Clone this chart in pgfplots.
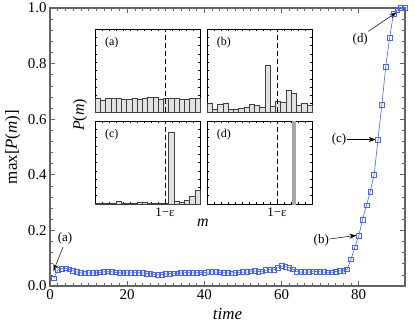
\documentclass[border=0pt]{standalone}
\usepackage{fontspec}
\setmainfont{Liberation Serif}
\usepackage{pgfplots}
\pgfplotsset{compat=1.18}
\usetikzlibrary{arrows.meta}
\definecolor{mainblue}{RGB}{70,100,250}
\definecolor{framegray}{RGB}{100,100,100}
\definecolor{barfill}{RGB}{225,225,225}
\pgfplotstableread{
t v
1 0.028
2 0.058
3 0.062
4 0.064
5 0.060
6 0.055
7 0.050
8 0.047
9 0.046
10 0.047
11 0.047
12 0.048
13 0.049
14 0.051
15 0.053
16 0.051
17 0.049
18 0.048
19 0.047
20 0.047
21 0.047
22 0.048
23 0.048
24 0.047
25 0.045
26 0.044
27 0.042
28 0.040
29 0.041
30 0.043
31 0.045
32 0.046
33 0.046
34 0.047
35 0.048
36 0.048
37 0.047
38 0.048
39 0.049
40 0.048
41 0.050
42 0.051
43 0.050
44 0.049
45 0.048
46 0.047
47 0.046
48 0.048
49 0.049
50 0.050
51 0.050
52 0.053
53 0.054
54 0.052
55 0.053
56 0.057
57 0.059
58 0.058
59 0.066
60 0.072
61 0.070
62 0.066
63 0.060
64 0.052
65 0.050
66 0.050
67 0.050
68 0.053
69 0.052
70 0.051
71 0.050
72 0.049
73 0.049
74 0.052
75 0.054
76 0.055
77 0.060
78 0.096
79 0.139
80 0.180
81 0.239
82 0.290
83 0.340
84 0.400
85 0.527
86 0.652
87 0.788
88 0.892
89 0.978
90 0.993
91 1.000
92 1.000
}\maindata
\pgfplotstableread{
x a b c
0.025 0.161 0.105 0.005
0.075 0.145 0.036 0.005
0.125 0.161 0.088 0.005
0.175 0.169 0.105 0.008
0.225 0.161 0.032 0.036
0.275 0.153 0.036 0.015
0.325 0.157 0.048 0.004
0.375 0.169 0.060 0.004
0.425 0.153 0.088 0.020
0.475 0.161 0.076 0.025
0.525 0.173 0.060 0.015
0.575 0.173 0.566 0.010
0.625 0.157 0.072 0.010
0.675 0.161 0.130 0.004
0.725 0.161 0.120 0.870
0.775 0.161 0.265 0.030
0.825 0.153 0.225 0.020
0.875 0.153 0.084 0.040
0.925 0.165 0.105 0.090
0.975 0.165 0.084 0.170
}\insetdata
\pgfplotsset{
  inset/.style={
    scale only axis, width=105bp, height=83bp, anchor=north west,
    xmin=0, xmax=1, ymin=0, ymax=1,
    axis line style={black, line width=0.6pt},
    xtick={0,0.0666667,...,1.01}, ytick={0,0.1,...,1.01},
    xticklabels={}, yticklabels={},
    tick align=inside, major tick length=2.2bp,
    tick style={black, line width=0.4pt},
    clip=false,
  },
  bars/.style={ybar, bar width=0.05, bar shift=0pt, fill=barfill, draw=black!75, line width=0.5pt},
}
\begin{document}
\begin{tikzpicture}
\useasboundingbox (0bp,0bp) rectangle (415bp,329bp);
\begin{axis}[
  at={(50bp,43bp)}, anchor=south west, scale only axis,
  width=355bp, height=278bp,
  xmin=0, xmax=92, ymin=0, ymax=1,
  xtick={0,20,...,80}, ytick={0,0.2,...,1.01},
  minor x tick num=9, minor y tick num=4,
  tick align=inside, major tick length=5bp, minor tick length=3bp,
  tick style={framegray, line width=0.6pt},
  axis line style={framegray, line width=1.2pt},
  /pgf/number format/assume math mode=true,
  yticklabel style={/pgf/number format/fixed, /pgf/number format/fixed zerofill, /pgf/number format/precision=1},
  ticklabel style={font=\fontsize{15}{17}\selectfont},
  xlabel={\textit{time}}, ylabel={max[\textit{P}(\textit{m})]},
  label style={font=\fontsize{17}{19}\selectfont},
  xlabel style={at={(axis description cs:0.5,0)}, anchor=north, yshift=-19bp},
  ylabel style={at={(axis description cs:0,0.5)}, anchor=south, yshift=26bp},
  clip=false,
]
\addplot[mainblue, line width=0.6pt, mark=square, mark size=2.4bp, mark options={line width=0.6pt}] table[x=t, y=v] {\maindata};
\node[font=\fontsize{13}{15}\selectfont] at (axis cs:3.9,0.170) {(a)};
\draw[-{Stealth[length=7bp,width=5bp]}, line width=0.5pt] (axis cs:3.4,0.141) -- (axis cs:0.9,0.054);
\node[font=\fontsize{13}{15}\selectfont] at (axis cs:70.3,0.164) {(b)};
\draw[-{Stealth[length=7bp,width=5bp]}, line width=0.5pt] (axis cs:72.4,0.169) -- (axis cs:79.4,0.182);
\node[font=\fontsize{13}{15}\selectfont] at (axis cs:74.9,0.527) {(c)};
\draw[-{Stealth[length=7bp,width=5bp]}, line width=0.5pt] (axis cs:76.9,0.527) -- (axis cs:84.4,0.527);
\node[font=\fontsize{13}{15}\selectfont] at (axis cs:80.4,0.886) {(d)};
\draw[-{Stealth[length=7bp,width=5bp]}, line width=0.5pt] (axis cs:82.5,0.916) -- (axis cs:89.8,0.984);
\end{axis}
% inset (a)
\begin{axis}[inset, at={(95bp,300bp)}]
\addplot[bars] table[x=x, y=a] {\insetdata};
\draw[dashed, line width=0.6pt, dash pattern=on 5bp off 3bp] (axis cs:0.667,0) -- (axis cs:0.667,1);
\node[font=\fontsize{12}{14}\selectfont] at (axis cs:0.16,0.83) {(a)};
\end{axis}
% inset (b)
\begin{axis}[inset, at={(207bp,300bp)}]
\addplot[bars] table[x=x, y=b] {\insetdata};
\draw[dashed, line width=0.6pt, dash pattern=on 5bp off 3bp] (axis cs:0.667,0) -- (axis cs:0.667,1);
\node[font=\fontsize{12}{14}\selectfont] at (axis cs:0.16,0.83) {(b)};
\end{axis}
% inset (c)
\begin{axis}[inset, at={(95bp,208bp)}]
\addplot[bars] table[x=x, y=c] {\insetdata};
\draw[dashed, line width=0.6pt, dash pattern=on 5bp off 3bp] (axis cs:0.667,0) -- (axis cs:0.667,1);
\node[font=\fontsize{12}{14}\selectfont] at (axis cs:0.16,0.83) {(c)};
\node[font=\fontsize{13}{15}\selectfont, anchor=north] at (axis cs:0.667,-0.01) {1−ε};
\end{axis}
% inset (d)
\begin{axis}[inset, at={(207bp,208bp)}]
\addplot[ybar, bar width=0.028, bar shift=0pt, fill=gray!70, draw=gray!70, line width=0.4pt] coordinates {(0.822,1.0)};
\draw[dashed, line width=0.6pt, dash pattern=on 5bp off 3bp] (axis cs:0.667,0) -- (axis cs:0.667,1);
\node[font=\fontsize{12}{14}\selectfont] at (axis cs:0.16,0.83) {(d)};
\node[font=\fontsize{13}{15}\selectfont, anchor=north] at (axis cs:0.667,-0.01) {1−ε};
\end{axis}
\node[rotate=90, font=\fontsize{16}{18}\selectfont] at (80bp,214bp) {\textit{P}(\textit{m})};
\node[font=\fontsize{16}{18}\selectfont] at (203bp,106bp) {\textit{m}};
\end{tikzpicture}
\end{document}
